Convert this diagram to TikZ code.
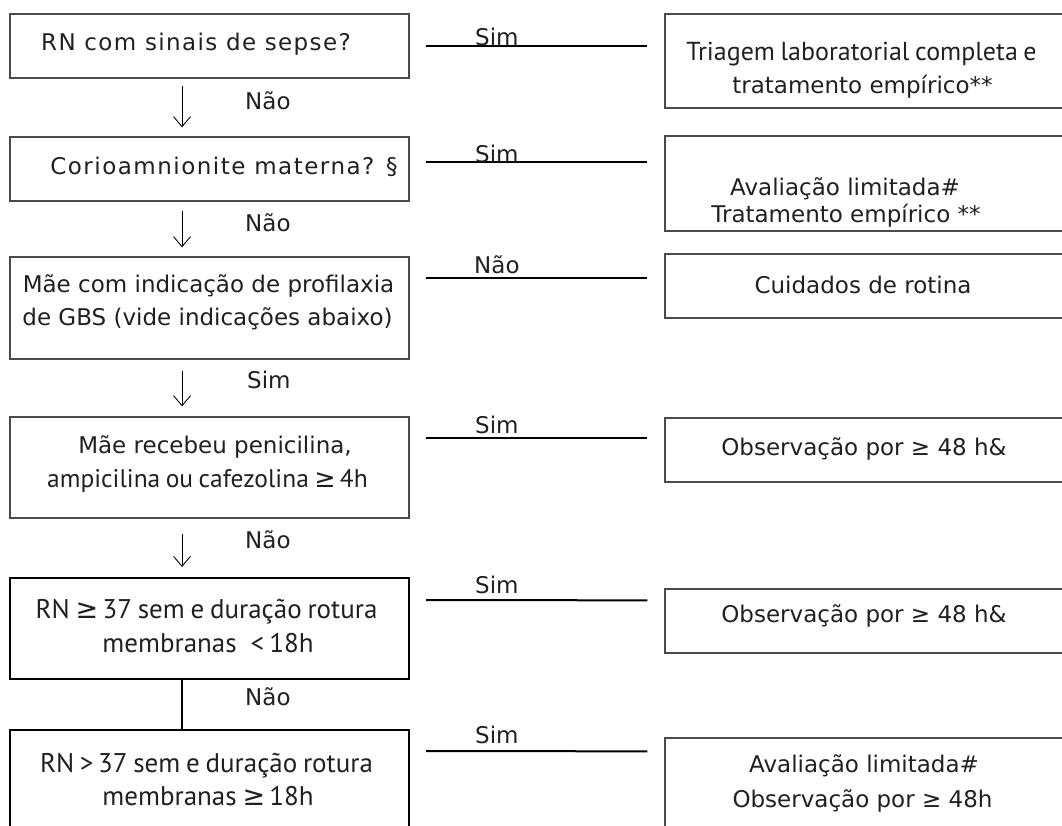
\documentclass[tikz,border=0pt]{standalone}
\usepackage{fontspec}
\setmainfont{DejaVu Sans}
\newfontfamily\myrA[WordSpace=0.2]{PT Sans}
\newfontfamily\myrB[WordSpace=0.35]{PT Sans}
\newfontfamily\myrC[WordSpace=0.8]{PT Sans}
\newfontfamily\dv{DejaVu Sans}
\newfontfamily\dvwide[LetterSpace=6]{DejaVu Sans}
\newfontfamily\dvwider[LetterSpace=6.5]{DejaVu Sans}
\usetikzlibrary{arrows.meta,calc}
\newcommand{\gee}{{\dv ≥}}
\definecolor{boxgray}{HTML}{4A4A4A}
\definecolor{ink}{HTML}{231F20}
\tikzset{
  box/.style={draw=boxgray, line width=1.3pt, inner sep=0pt, minimum width=399pt},
  rbox/.style={draw=boxgray, line width=1.3pt, inner sep=0pt, minimum width=410pt},
  thickbox/.style={draw=black, line width=2pt, inner sep=0pt, minimum width=399pt},
  txt/.style={anchor=base, inner sep=0pt, text=ink, font=\fontsize{23}{28}\selectfont},
  wtxt/.style={anchor=base, inner sep=0pt, text=ink, font=\dvwide\fontsize{23}{28}\selectfont},
  mtxt/.style={anchor=base, inner sep=0pt, text=ink, font=\fontsize{27}{30}\selectfont},
  lbl/.style={anchor=base west, inner sep=0pt, text=ink, font=\fontsize{23}{28}\selectfont},
  hline/.style={draw=black, line width=2pt},
  darrow/.style={draw=black, line width=0.9pt, -{Straight Barb[length=10pt,width=17pt,line width=0.9pt]}},
  vline/.style={draw=black, line width=2pt}
}
\begin{document}
\begin{tikzpicture}[x=1pt,y=-1pt]
\useasboundingbox (0,0) rectangle (1062,825);
\clip (0,0) rectangle (1062,825);
% left boxes
\node[box, minimum height=64pt] (b1) at (209.5,46) {};
\node[box, minimum height=64pt] (b2) at (209.5,169) {};
\node[box, minimum height=102pt] (b3) at (209.5,308) {};
\node[box, minimum height=101pt] (b4) at (209.5,467.5) {};
\node[thickbox, minimum height=101pt] (b5) at (209.5,628.5) {};
\node[thickbox, minimum height=101pt] (b6) at (209.5,780.5) {};
% right boxes
\node[rbox, minimum height=94pt] (r1) at (870,61) {};
\node[rbox, minimum height=95pt] (r2) at (870,183.5) {};
\node[rbox, minimum height=64pt] (r3) at (870,286) {};
\node[rbox, minimum height=64pt] (r4) at (870,450) {};
\node[rbox, minimum height=64pt] (r5) at (870,621) {};
\node[rbox, minimum height=102pt] (r6) at (870,789) {};
% texts left
\node[wtxt] (t1) at (196,50) {RN com sinais de sepse?};
\node[wtxt, font=\dvwider\fontsize{23}{28}\selectfont] (t2) at (224,174) {Corioamnionite materna? §};
\node[txt] (t3a) at (208.5,292) {Mãe com indicação de profilaxia};
\node[txt] (t3b) at (207.5,325) {de GBS (vide indicações abaixo)};
\node[txt] (t4a) at (215,453) {Mãe recebeu penicilina,};
\node[mtxt] (t4b) at (207.5,487) {\fontsize{25.5}{30}\myrB ampicilina ou cafezolina \gee\,4h};
\node[mtxt] (t5a) at (206.5,618) {\myrC RN \gee\,37 sem e duração rotura};
\node[mtxt] (t5b) at (208,652) {\myrC membranas\hspace{14pt}<\hspace{5pt}18h};
\node[mtxt] (t6a) at (206.5,772) {\myrC RN >\,37 sem e duração rotura};
\node[mtxt] (t6b) at (208,805) {\myrC membranas\hspace{6pt}\gee\hspace{4pt}18h};
% texts right
\node[mtxt] (u1a) at (861.5,60) {\fontsize{26}{30}\myrA Triagem laboratorial completa e};
\node[txt] (u1b) at (862.5,93) {tratamento empírico**};
\node[txt] (u2a) at (845,195) {Avaliação limitada\#};
\node[txt] (u2b) at (846,222) {Tratamento empírico **};
\node[txt] (u3) at (863,293) {Cuidados de rotina};
\node[txt] (u4) at (864,455) {Observação por \gee{} 48 h\&};
\node[txt] (u5) at (864,622) {Observação por \gee{} 48 h\&};
\node[txt] (u6a) at (864,772) {Avaliação limitada\#};
\node[txt] (u6b) at (862.5,807) {Observação por \gee{} 48h};
% horizontal connectors
\draw[hline] ($(b1.north east)+(16,33)$) -- ($(r1.north west)+(-17,33)$);
\draw[hline] ($(b2.north east)+(16,26)$) -- ($(r2.north west)+(-17,27)$);
\draw[hline] ($(b3.north east)+(16,22)$) -- ($(r3.north west)+(-17,25)$);
\draw[hline] ($(b4.north east)+(16,22)$) -- ($(r4.north west)+(-17,21)$);
\draw[hline] ($(b5.north east)+(16,23)$) -- ($(r5.north west)+(-17,12)$);
\draw[hline] ($(b6.north east)+(16,22)$) -- ($(r6.north west)+(-17,14)$);
\node[lbl] (s1) at (475,45) {Sim};
\node[lbl] (s2) at (475,162) {Sim};
\node[lbl] (s3) at (474,273) {Não};
\node[lbl] (s4) at (475,433) {Sim};
\node[lbl] (s5) at (475,593) {Sim};
\node[lbl] (s6) at (475,743) {Sim};
% vertical connectors
\draw[darrow] ($(b1.south)+(-27.5,7)$) -- ($(b2.north)+(-27.5,-9)$);
\draw[darrow] ($(b2.south)+(-27.5,9)$) -- ($(b3.north)+(-27.5,-9)$);
\draw[darrow] ($(b3.south)+(-27.5,11)$) -- ($(b4.north)+(-27.5,-10)$);
\draw[darrow] ($(b4.south)+(-27.5,15)$) -- ($(b5.north)+(-27.5,-10)$);
\draw[vline] ($(b5.south)+(-27.5,0)$) -- ($(b6.north)+(-27.5,0)$);
\node[lbl] (d1) at (245,109) {Não};
\node[lbl] (d2) at (245,231) {Não};
\node[lbl] (d3) at (247,388) {Sim};
\node[lbl] (d4) at (245,548) {Não};
\node[lbl] (d5) at (245,705) {Não};
\end{tikzpicture}
\end{document}
